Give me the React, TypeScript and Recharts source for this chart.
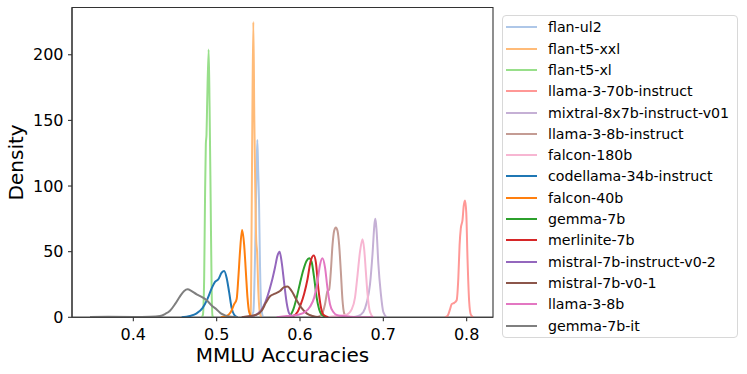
import { LineChart, Line, XAxis, YAxis, ReferenceArea, Legend } from 'recharts';

type Pt = [number, number];

const X_TICKS = [0.4, 0.5, 0.6, 0.7, 0.8];
const Y_TICKS = [0, 50, 100, 150, 200];
const X_DOMAIN: [number, number] = [0.3264, 0.8316];
const Y_DOMAIN: [number, number] = [0, 236];

// density curves, [accuracy, density]
const flanUl2: Pt[] = [
  [0.54, 0], [0.544, 4], [0.546, 45], [0.5478, 110], [0.5488, 135], [0.5498, 112],
  [0.5508, 89], [0.552, 40], [0.5535, 8], [0.5556, 0],
];
const flanT5Xxl: Pt[] = [
  [0.539, 0], [0.5408, 2], [0.5418, 60], [0.5428, 150], [0.544, 225], [0.5452, 150],
  [0.5465, 89], [0.5475, 58], [0.5485, 50], [0.55, 20], [0.5515, 5], [0.5535, 0],
];
const flanT5Xl: Pt[] = [
  [0.482, 0], [0.4835, 2], [0.485, 30], [0.486, 89], [0.487, 132], [0.4878, 139],
  [0.4885, 160], [0.4904, 204], [0.4915, 160], [0.4928, 89], [0.494, 20], [0.495, 1], [0.4965, 0],
];
const llama370bInstruct: Pt[] = [
  [0.774, 0], [0.777, 1], [0.78, 6], [0.782, 10], [0.785, 11], [0.788, 13], [0.79, 30],
  [0.7915, 55], [0.793, 68], [0.795, 74], [0.7965, 85], [0.798, 89], [0.7995, 80],
  [0.801, 45], [0.803, 12], [0.805, 2], [0.808, 0],
];
const mixtral8x7b: Pt[] = [
  [0.662, 0], [0.67, 1], [0.676, 4], [0.68, 11], [0.684, 25], [0.687, 48], [0.6895, 72],
  [0.6905, 75], [0.692, 65], [0.694, 41], [0.697, 18], [0.7, 4], [0.704, 0],
];
const llama38bInstruct: Pt[] = [
  [0.62, 0], [0.626, 2], [0.63, 10], [0.633, 20], [0.635, 21], [0.637, 35], [0.639, 55],
  [0.641, 66], [0.643, 68.5], [0.645, 66], [0.647, 55], [0.649, 35], [0.651, 13], [0.653, 3], [0.656, 0],
];
const falcon180b: Pt[] = [
  [0.63, 0], [0.645, 1], [0.656, 2], [0.662, 6], [0.666, 15], [0.669, 32], [0.672, 50],
  [0.675, 59.5], [0.677, 52], [0.679, 35], [0.681, 18], [0.684, 4], [0.688, 0],
];
const codellama34b: Pt[] = [
  [0.458, 0], [0.468, 1], [0.476, 3], [0.483, 7], [0.489, 14], [0.494, 22], [0.498, 27],
  [0.502, 29], [0.506, 34], [0.509, 35.3], [0.512, 30], [0.515, 19], [0.518, 7], [0.521, 2], [0.525, 0],
];
const falcon40b: Pt[] = [
  [0.505, 0], [0.512, 1], [0.517, 4], [0.521, 10], [0.524, 14], [0.526, 30], [0.528, 50],
  [0.5305, 66.5], [0.533, 55], [0.535, 35], [0.537, 15], [0.539, 4], [0.542, 0],
];
const gemma7b: Pt[] = [
  [0.58, 0], [0.587, 1], [0.592, 6], [0.596, 15], [0.6, 26], [0.604, 36], [0.608, 43],
  [0.611, 45], [0.614, 42], [0.617, 30], [0.62, 15], [0.623, 6], [0.626, 2], [0.632, 0],
];
const merlinite7b: Pt[] = [
  [0.585, 0], [0.592, 1], [0.597, 4], [0.601, 10], [0.605, 18], [0.609, 29], [0.6125, 42],
  [0.6165, 47], [0.619, 42], [0.622, 22], [0.625, 8], [0.628, 2], [0.634, 0],
];
const mistral7bInstruct: Pt[] = [
  [0.535, 0], [0.543, 1], [0.55, 3], [0.556, 8], [0.561, 16], [0.566, 27], [0.57, 38],
  [0.573, 47], [0.5755, 50], [0.578, 42], [0.581, 26], [0.584, 11], [0.587, 3], [0.592, 0],
];
const mistral7bV01: Pt[] = [
  [0.53, 0], [0.54, 1], [0.548, 2], [0.554, 5], [0.559, 11], [0.564, 16], [0.57, 18],
  [0.576, 20], [0.581, 23], [0.585, 23.5], [0.59, 20], [0.596, 13], [0.602, 7], [0.608, 3],
  [0.615, 1], [0.624, 0],
];
const llama38b: Pt[] = [
  [0.572, 0], [0.585, 1], [0.598, 2], [0.606, 4], [0.612, 8], [0.617, 15], [0.621, 27],
  [0.624, 40], [0.627, 45], [0.63, 38], [0.633, 22], [0.636, 10], [0.64, 4], [0.645, 1.5],
  [0.66, 0.5], [0.688, 0],
];
const gemma7bIt: Pt[] = [
  [0.348, 0.3], [0.37, 0.4], [0.4, 0.3], [0.42, 0.5], [0.432, 1], [0.438, 2.5], [0.444, 5],
  [0.45, 10], [0.456, 16], [0.461, 20], [0.465, 21.3], [0.47, 20], [0.476, 17.5], [0.482, 15.5],
  [0.488, 13], [0.494, 9], [0.5, 6], [0.505, 3], [0.51, 1.5], [0.518, 0.4], [0.525, 0],
];

const SERIES = [
  { name: 'flan-ul2', color: '#aec7e8', points: flanUl2 },
  { name: 'flan-t5-xxl', color: '#ffbb78', points: flanT5Xxl },
  { name: 'flan-t5-xl', color: '#98df8a', points: flanT5Xl },
  { name: 'llama-3-70b-instruct', color: '#ff9896', points: llama370bInstruct },
  { name: 'mixtral-8x7b-instruct-v01', color: '#c5b0d5', points: mixtral8x7b },
  { name: 'llama-3-8b-instruct', color: '#c49c94', points: llama38bInstruct },
  { name: 'falcon-180b', color: '#f7b6d2', points: falcon180b },
  { name: 'codellama-34b-instruct', color: '#1f77b4', points: codellama34b },
  { name: 'falcon-40b', color: '#ff7f0e', points: falcon40b },
  { name: 'gemma-7b', color: '#2ca02c', points: gemma7b },
  { name: 'merlinite-7b', color: '#d62728', points: merlinite7b },
  { name: 'mistral-7b-instruct-v0-2', color: '#9467bd', points: mistral7bInstruct },
  { name: 'mistral-7b-v0-1', color: '#8c564b', points: mistral7bV01 },
  { name: 'llama-3-8b', color: '#e377c2', points: llama38b },
  { name: 'gemma-7b-it', color: '#7f7f7f', points: gemma7bIt },
];

const FONT = 'DejaVu Sans, sans-serif';
const ROW = 21.3;

const renderLegend = () => (
  <div
    style={{
      position: 'relative',
      width: 236,
      height: 323,
      boxSizing: 'border-box',
      border: '1px solid #d8d8d8',
      borderRadius: 4,
      background: 'rgba(255,255,255,0.8)',
      fontFamily: FONT,
      fontSize: 14.2,
      color: '#000',
    }}
  >
    {SERIES.map((s, i) => {
      const cy = 11.3 + i * ROW;
      return (
        <div key={s.name}>
          <div
            style={{
              position: 'absolute', left: 3.3, top: cy - 1, width: 30.7, height: 2,
              background: s.color,
            }}
          />
          <div
            style={{
              position: 'absolute', left: 45.3, top: cy - 8, lineHeight: '16px',
              whiteSpace: 'nowrap',
            }}
          >
            {s.name}
          </div>
        </div>
      );
    })}
  </div>
);

export default function App() {
  return (
    <div style={{ position: 'absolute', left: 0, top: 0, width: 747, height: 374, background: '#fff' }}>
      <LineChart
        width={747}
        height={374}
        margin={{ top: 7.5, right: 254, bottom: 6.7, left: 0 }}
        style={{ fontFamily: FONT }}
      >
        <XAxis
          dataKey="x"
          type="number"
          domain={X_DOMAIN}
          ticks={X_TICKS}
          allowDataOverflow
          height={50}
          tickSize={4}
          tickMargin={7}
          tick={{ fontSize: 16, fill: '#000' }}
          tickFormatter={(v: number) => v.toFixed(1)}
          axisLine={{ stroke: '#333', strokeWidth: 1.1 }}
          tickLine={{ stroke: '#333', strokeWidth: 1.1 }}
          label={{ value: 'MMLU Accuracies', position: 'insideBottom', offset: 5.3, fontSize: 20, fill: '#000' }}
        />
        <YAxis
          type="number"
          domain={Y_DOMAIN}
          ticks={Y_TICKS}
          allowDataOverflow
          width={72}
          tickSize={4}
          tickMargin={4.5}
          tick={{ fontSize: 16, fill: '#000' }}
          axisLine={{ stroke: '#333', strokeWidth: 1.1 }}
          tickLine={{ stroke: '#333', strokeWidth: 1.1 }}
          label={{
            value: 'Density', angle: -90, position: 'insideLeft', offset: 15.6,
            fontSize: 20, fill: '#000', style: { textAnchor: 'middle' },
          }}
        />
        <ReferenceArea
          x1={X_DOMAIN[0]} x2={X_DOMAIN[1]} y1={Y_DOMAIN[0]} y2={Y_DOMAIN[1]}
          fill="none" stroke="#333" strokeWidth={1.1} ifOverflow="extendDomain"
        />
        {SERIES.map((s) => (
          <Line
            key={s.name}
            name={s.name}
            data={s.points.map(([x, y]) => ({ x, y }))}
            dataKey="y"
            type="monotone"
            stroke={s.color}
            strokeWidth={2}
            dot={false}
            activeDot={false}
            isAnimationActive={false}
          />
        ))}
        <Legend
          layout="vertical"
          align="center"
          verticalAlign="middle"
          content={renderLegend}
          wrapperStyle={{ left: 501.7, top: 15, width: 236, height: 323 }}
        />
      </LineChart>
    </div>
  );
}
